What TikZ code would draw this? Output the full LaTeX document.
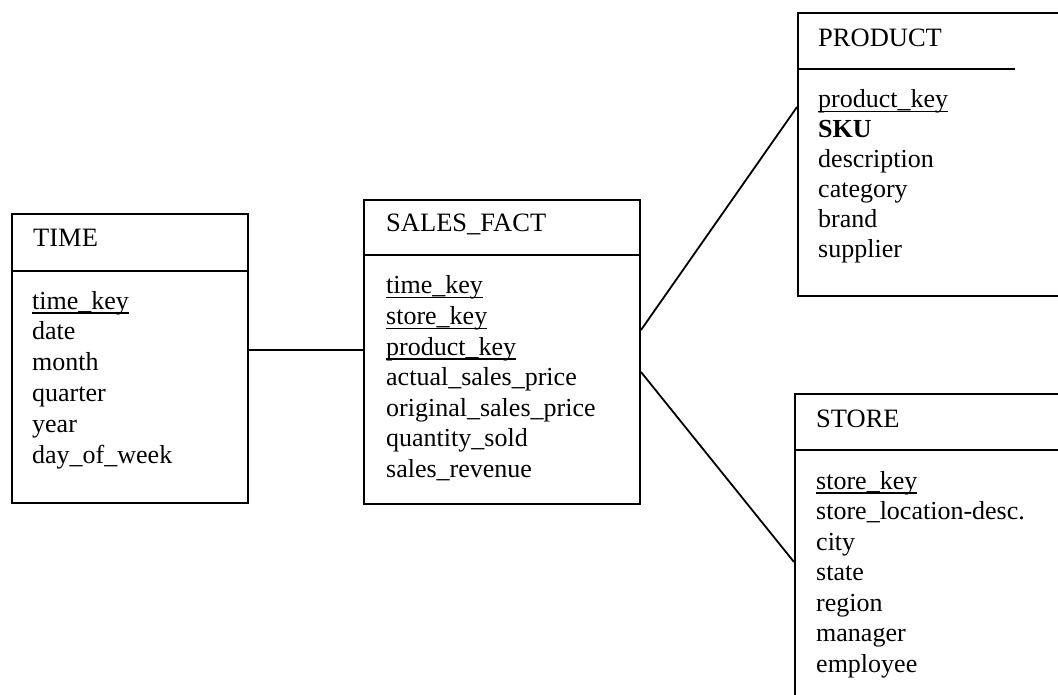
\documentclass[tikz,border=0pt]{standalone}
\usepackage{fontspec}
\setmainfont{Liberation Serif}
% key attributes: underline drawn just under the baseline
\newcommand\keyul[1]{\setbox0\hbox{#1}\rlap{\rule[-4.5pt]{\wd0}{1.3pt}}\box0}
\begin{document}
\begin{tikzpicture}[x=1pt,y=-1pt,
  tbl/.style={draw, line width=2pt, anchor=north west, inner sep=0pt},
  sep/.style={line width=2pt},
  link/.style={line width=1.8pt},
  ttl/.style={anchor=base west, inner sep=0pt, font=\fontsize{26.5}{30}\selectfont},
  fld/.style={anchor=base west, inner sep=0pt, font=\fontsize{26}{30}\selectfont}]
\useasboundingbox (0,0) rectangle (1058,695);
\clip (0,0) rectangle (1058,695);

% table frames
\node[tbl, minimum width=236pt, minimum height=289pt] (time) at (11,213) {};
\node[tbl, minimum width=276pt, minimum height=304pt] (sales) at (363,199) {};
\node[tbl, minimum width=300pt, minimum height=283pt] (product) at (797,12) {};
\node[tbl, minimum width=300pt, minimum height=340pt] (store) at (794,393) {};

% header separators
\coordinate (hT) at (0,271);
\coordinate (hS) at (0,255);
\coordinate (hP) at (1015,69);
\coordinate (hR) at (0,450);
\draw[sep] (time.west |- hT) -- (time.east |- hT);
\draw[sep] (sales.west |- hS) -- (sales.east |- hS);
\draw[sep] (product.west |- hP) -- (hP);
\draw[sep] (store.west |- hR) -- (store.east |- hR);

% titles
\node[ttl] (timeT) at (33,247) {TIME};
\node[ttl] (salesT) at (386,232) {SALES\_FACT};
\node[ttl] (productT) at (818,47) {PRODUCT};
\node[ttl] (storeT) at (816,427) {STORE};

% attributes
\foreach \t [count=\i] in {\keyul{time\_key}, date, month, quarter, year, day\_of\_week}
  \node[fld] (time-\i) at (32,{309+30.8*(\i-1)}) {\t};
\foreach \t [count=\i] in {\keyul{time\_key}, \keyul{store\_key}, \keyul{product\_key},
    actual\_sales\_price, original\_sales\_price, quantity\_sold, sales\_revenue}
  \node[fld] (sales-\i) at (386,{294+30.5*(\i-1)}) {\t};
\foreach \t [count=\i] in {\keyul{product\_key}, \textbf{SKU}, description, category, brand, supplier}
  \node[fld] (product-\i) at (818,{108+30*(\i-1)}) {\t};
\foreach \t [count=\i] in {\keyul{store\_key}, store\_location-desc., city, state, region, manager, employee}
  \node[fld] (store-\i) at (816,{489+30.5*(\i-1)}) {\t};

% relationships
\coordinate (a1) at (0,350);
\coordinate (b1) at (0,330);
\coordinate (b2) at (0,107);
\coordinate (c1) at (0,372);
\coordinate (c2) at (0,562);
\draw[link] (time.east |- a1) -- (sales.west |- a1);
\draw[link] (sales.east |- b1) -- (product.west |- b2);
\draw[link] (sales.east |- c1) -- (store.west |- c2);
\end{tikzpicture}
\end{document}
